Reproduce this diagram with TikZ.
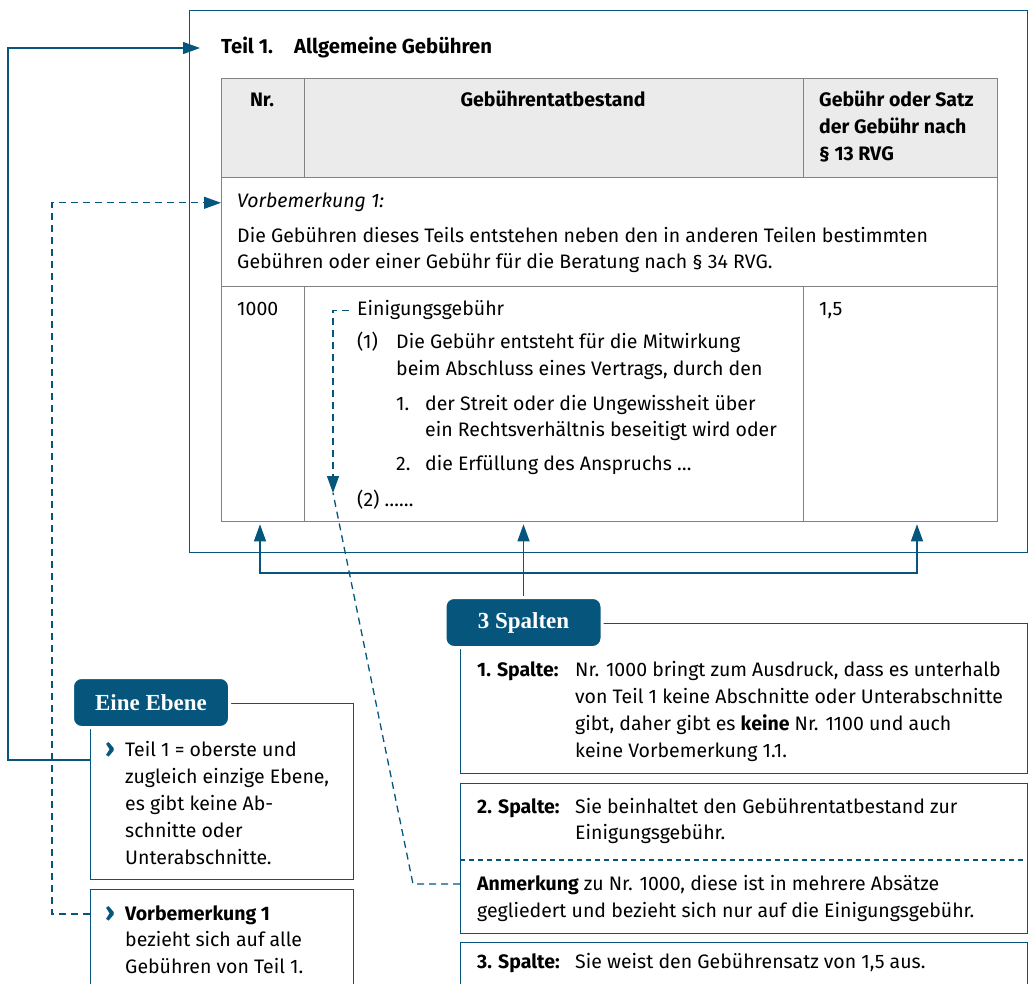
\documentclass[tikz,border=0pt]{standalone}
\usepackage{fontspec}
\setmainfont{Fira Sans}
\newfontfamily\etikettschrift{Liberation Serif}
\usetikzlibrary{arrows.meta}

\definecolor{dunkelblau}{RGB}{5,85,125}
\definecolor{gitter}{RGB}{130,130,130}
\definecolor{kopfgrau}{RGB}{235,235,235}
\newcommand{\grundschrift}{\fontsize{19.5}{27}\selectfont}

\tikzset{
	linie/.style={draw=dunkelblau, line width=1.3pt},
	pfeil/.style={linie, -{Triangle[length=17pt,width=12pt]}},
	strich/.style={linie, dash pattern=on 7pt off 5pt},
	zelle/.style={draw=gitter, line width=1.3pt, anchor=north west, inner sep=0pt},
	kasten/.style={draw=dunkelblau, line width=1.3pt, anchor=north west, inner sep=0pt},
	inhalt/.style={anchor=base west, inner sep=0pt, align=left, font=\grundschrift},
	fett/.style={inhalt, font=\grundschrift\bfseries},
	zeichen/.style={inhalt, text=dunkelblau, font=\fontsize{27}{27}\selectfont\bfseries},
	etikett/.style={fill=dunkelblau, draw=white, line width=3pt, rounded corners=9pt,
		text=white, minimum width=157pt, minimum height=50pt, inner sep=0pt,
		font=\etikettschrift\bfseries\fontsize{23}{23}\selectfont}
}

\begin{document}
\begin{tikzpicture}[x=1pt,y=-1pt]
	\clip (0,0) rectangle (1029,984);
	
	% Rahmen und Titel
	\node[kasten, minimum width=838pt, minimum height=542pt] (rahmen) at (189,10) {};
	\node[fett, font=\fontsize{20.3}{27}\selectfont\bfseries] (titel) at (221,54) {Teil 1.\hspace{21pt}Allgemeine Gebühren};
	
	% Tabelle
	\node[zelle, fill=kopfgrau, minimum width=83pt, minimum height=99pt] (kopfnr) at (221,78) {};
	\node[zelle, fill=kopfgrau, minimum width=499pt, minimum height=99pt] (kopftat) at (304,78) {};
	\node[zelle, fill=kopfgrau, minimum width=194pt, minimum height=99pt] (kopfsatz) at (803,78) {};
	\node[zelle, minimum width=776pt, minimum height=109pt] (vorzeile) at (221,177) {};
	\node[zelle, minimum width=83pt, minimum height=235pt] (nrzelle) at (221,286) {};
	\node[zelle, minimum width=499pt, minimum height=235pt] (tatzelle) at (304,286) {};
	\node[zelle, minimum width=194pt, minimum height=235pt] (satzzelle) at (803,286) {};
	
	\node[fett, anchor=base] (nrkopf) at (262,107) {Nr.};
	\node[fett, anchor=base] (tatkopf) at (553,107) {Gebührentatbestand};
	\node[fett] (satzkopf) at (819,161) {Gebühr oder Satz\\der Gebühr nach\\§ 13 RVG};
	
	\node[inhalt, font=\grundschrift\itshape] (vorbem) at (237,208) {Vorbemerkung 1:};
	\node[inhalt] (vorbemtext) at (237,269) {Die Gebühren dieses Teils entstehen neben den in anderen Teilen bestimmten\\[-1pt]Gebühren oder einer Gebühr für die Beratung nach § 34 RVG.};
	
	\node[inhalt] (nummer) at (237,316) {1000};
	\node[inhalt] (einig) at (357,316) {Einigungsgebühr};
	\node[inhalt] (abs1nr) at (357,349) {(1)};
	\node[inhalt] (abs1) at (396,376) {Die Gebühr entsteht für die Mitwirkung\\beim Abschluss eines Vertrags, durch den};
	\node[inhalt] (pkt1nr) at (396,411) {1.};
	\node[inhalt] (pkt1) at (425,437) {der Streit oder die Ungewissheit über\\[-1pt]ein Rechtsverhältnis beseitigt wird oder};
	\node[inhalt] (pkt2nr) at (396,471) {2.};
	\node[inhalt] (pkt2) at (425,471) {die Erfüllung des Anspruchs …};
	\node[inhalt] (abs2) at (357,506) {(2) ……};
	\node[inhalt] (satz) at (819,316) {1,5};
	
	% Kaesten unten rechts
	\node[kasten, minimum width=567pt, minimum height=150pt] (box1) at (460,623) {};
	\node[etikett] (spalten) at (523.5,622.5) {3 Spalten};
	\node[fett] (sp1) at (477,676) {1. Spalte:};
	\node[inhalt] (sp1text) at (575,757) {Nr. 1000 bringt zum Ausdruck, dass es unterhalb\\von Teil 1 keine Abschnitte oder Unterabschnitte\\gibt, daher gibt es \textbf{keine} Nr. 1100 und auch\\keine Vorbemerkung 1.1.};
	
	\node[kasten, minimum width=567pt, minimum height=150pt] (box2) at (460,783) {};
	\draw[strich, dash pattern=on 5pt off 4pt] (box2.west |- 0,860) -- (box2.east |- 0,860);
	\node[fett] (sp2) at (477,813) {2. Spalte:};
	\node[inhalt] (sp2text) at (575,839) {Sie beinhaltet den Gebührentatbestand zur\\[-1pt]Einigungsgebühr.};
	\node[inhalt] (anm) at (477,917) {\textbf{Anmerkung} zu Nr. 1000, diese ist in mehrere Absätze\\gegliedert und bezieht sich nur auf die Einigungsgebühr.};
	
	\node[kasten, minimum width=567pt, minimum height=60pt] (box3) at (460,942) {};
	\node[fett] (sp3) at (477,968) {3. Spalte:};
	\node[inhalt] (sp3text) at (575,968) {Sie weist den Gebührensatz von 1,5 aus.};
	
	% Kaesten unten links
	\node[kasten, minimum width=263pt, minimum height=176pt] (ebenebox) at (90,703) {};
	\node[etikett] (ebene) at (151,702.5) {Eine Ebene};
	\node[zeichen] (ebenezeichen) at (105,757) {›};
	\node[inhalt] (ebenetext) at (125,864) {Teil 1 = oberste und\\zugleich einzige Ebene,\\es gibt keine Ab-\\schnitte oder\\Unterabschnitte.};
	
	\node[kasten, minimum width=263pt, minimum height=110pt] (vorbox) at (90,889) {};
	\node[zeichen] (vorzeichen) at (105,921) {›};
	\node[inhalt] (vortext) at (125,973) {\textbf{Vorbemerkung 1}\\[-0.5pt]bezieht sich auf alle\\[-0.5pt]Gebühren von Teil 1.};
	
	% Verbindungen
	\draw[pfeil] ([yshift=-57pt]ebenebox.north west) -- ++(-82pt,0) |- ([xshift=-21pt]titel.west);
	\draw[strich, -{Triangle[length=17pt,width=12pt]}] ([yshift=-25pt]vorbox.north west) -- ++(-38pt,0) |- (vorzeile.west |- vorbem.west);
	
	\coordinate (anmspitze) at (333,493);
	\coordinate (anmknick) at (413,884);
	\draw[strich, -{Triangle[length=17pt,width=12pt]}] ([xshift=-8pt]einig.west) -| (anmspitze);
	\draw[strich] ([yshift=-101pt]box2.north west) -- (anmknick) -- (anmspitze);
	
	\coordinate (klammerlinks) at (260,573);
	\coordinate (klammerrechts) at (917,573);
	\draw[linie, {Triangle[length=17pt,width=12pt]}-{Triangle[length=17pt,width=12pt]}, shorten <=2pt, shorten >=2pt]
		(klammerlinks |- nrzelle.south) -- (klammerlinks) -- (klammerrechts) -- (klammerrechts |- satzzelle.south);
	\draw[pfeil, shorten >=2pt] (spalten.north) -- (spalten.north |- tatzelle.south);
\end{tikzpicture}
\end{document}
